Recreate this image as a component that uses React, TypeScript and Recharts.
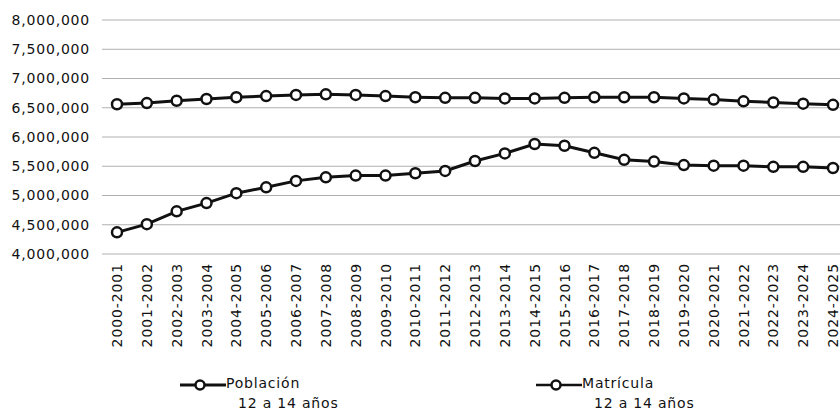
import { LineChart, Line, XAxis, YAxis, CartesianGrid, Legend } from "recharts";

const ciclos = [
  "2000-2001", "2001-2002", "2002-2003", "2003-2004", "2004-2005",
  "2005-2006", "2006-2007", "2007-2008", "2008-2009", "2009-2010",
  "2010-2011", "2011-2012", "2012-2013", "2013-2014", "2014-2015",
  "2015-2016", "2016-2017", "2017-2018", "2018-2019", "2019-2020",
  "2020-2021", "2021-2022", "2022-2023", "2023-2024", "2024-2025",
];

const poblacion = [
  6560000, 6580000, 6620000, 6650000, 6680000, 6700000, 6720000, 6730000,
  6720000, 6700000, 6680000, 6670000, 6670000, 6660000, 6660000, 6670000,
  6680000, 6680000, 6680000, 6660000, 6640000, 6610000, 6590000, 6570000,
  6550000,
];

const matricula = [
  4370000, 4510000, 4730000, 4870000, 5040000, 5140000, 5250000, 5310000,
  5340000, 5340000, 5380000, 5420000, 5590000, 5720000, 5880000, 5850000,
  5730000, 5610000, 5580000, 5520000, 5510000, 5510000, 5490000, 5490000,
  5470000,
];

const yTicks = [
  4000000, 4500000, 5000000, 5500000, 6000000, 6500000, 7000000, 7500000,
  8000000,
];

const data = ciclos.map((c, i) => ({
  ciclo: c,
  poblacion: poblacion[i],
  matricula: matricula[i],
}));

const FONT = "'DejaVu Sans', sans-serif";

function CicloTick({ x, y, payload }: any) {
  return (
    <text
      x={x}
      y={y}
      transform={`rotate(-90, ${x}, ${y})`}
      textAnchor="end"
      dy="0.36em"
      fontSize={14}
      letterSpacing={0.9}
      fill="#111"
      fontFamily={FONT}
    >
      {payload.value}
    </text>
  );
}

function LegendIcon({ filled }: { filled: boolean }) {
  return (
    <svg width={46} height={12} style={{ display: "block" }}>
      <line x1={0} y1={6} x2={46} y2={6} stroke="#111" strokeWidth={filled ? 3 : 2.5} />
      <circle cx={20} cy={6} r={4.5} fill="#fff" stroke="#111" strokeWidth={2.5} />
    </svg>
  );
}

function CustomLegend() {
  const item = (left: number, title: string, filled: boolean) => (
    <div style={{ position: "absolute", left, top: 0, display: "flex" }}>
      <div style={{ paddingTop: 6 }}>
        <LegendIcon filled={filled} />
      </div>
      <div style={{ fontSize: 14, letterSpacing: 0.8, lineHeight: "20px", color: "#111" }}>
        <div>{title}</div>
        <div style={{ paddingLeft: 12 }}>12 a 14 años</div>
      </div>
    </div>
  );
  return (
    <div style={{ position: "relative", width: 840, height: 42, fontFamily: FONT }}>
      {item(180, "Población", true)}
      {item(536, "Matrícula", false)}
    </div>
  );
}

export default function App() {
  return (
    <div style={{ position: "absolute", left: 0, top: 0, width: 840, height: 412, overflow: "hidden", background: "#fff", fontFamily: FONT }}>
      <LineChart
        width={840}
        height={412}
        data={data}
        margin={{ top: 20, right: 0, bottom: 0, left: 0 }}
      >
        <CartesianGrid vertical={false} stroke="#b0b0b0" strokeWidth={1} />
        <XAxis
          dataKey="ciclo"
          interval={0}
          axisLine={false}
          tickLine={false}
          tickMargin={3}
          height={116}
          padding={{ left: 15, right: 7 }}
          tick={<CicloTick />}
        />
        <YAxis
          domain={[4000000, 8000000]}
          ticks={yTicks}
          axisLine={false}
          tickLine={false}
          tickMargin={6}
          width={102}
          tickFormatter={(v: number) => v.toLocaleString("en-US")}
          tick={{ fontSize: 14, fill: "#111", fontFamily: FONT, letterSpacing: 0.8 }}
        />
        <Legend
          verticalAlign="bottom"
          content={<CustomLegend />}
          wrapperStyle={{ left: 0, top: 373, width: 840 }}
        />
        <Line
          type="linear"
          dataKey="poblacion"
          name="Población 12 a 14 años"
          stroke="#111"
          strokeWidth={3}
          dot={{ r: 5, fill: "#fff", stroke: "#111", strokeWidth: 2.5 }}
          isAnimationActive={false}
        />
        <Line
          type="linear"
          dataKey="matricula"
          name="Matrícula 12 a 14 años"
          stroke="#111"
          strokeWidth={3}
          dot={{ r: 5, fill: "#fff", stroke: "#111", strokeWidth: 2.5 }}
          isAnimationActive={false}
        />
      </LineChart>
    </div>
  );
}
